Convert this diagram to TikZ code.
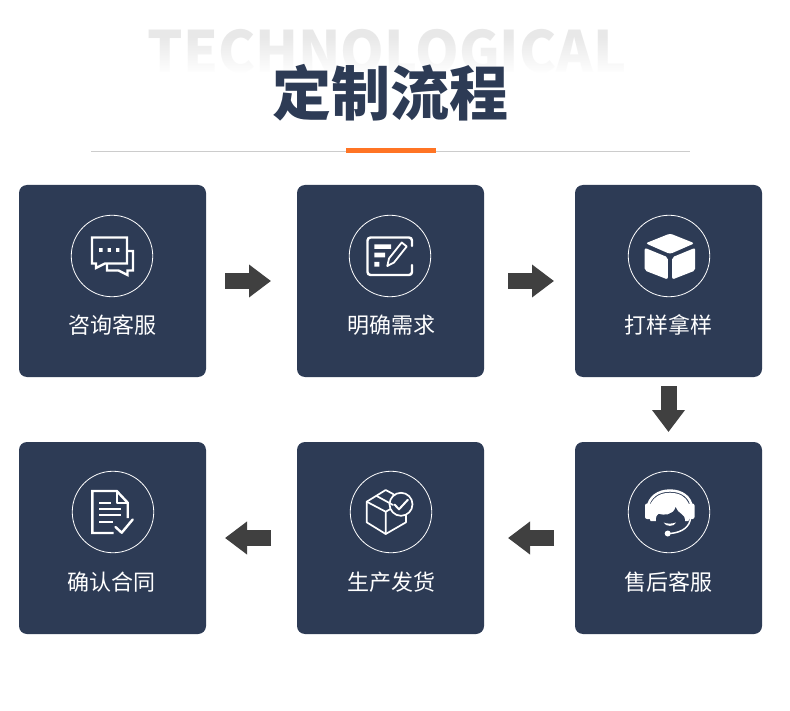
\documentclass[tikz,border=0pt]{standalone}
\usepackage{fontspec}
\setmainfont{Noto Sans CJK SC}
\newfontfamily\titlefont{Noto Sans CJK SC}[BoldFont={Noto Sans CJK SC Black}]
\usetikzlibrary{arrows.meta,fadings}
\definecolor{navy}{HTML}{2D3B55}
\definecolor{flowgray}{HTML}{404040}
\definecolor{accent}{HTML}{FF7424}
\tikzset{
  card/.style={fill=navy,rounded corners=8pt,minimum width=187pt,minimum height=192pt,inner sep=0pt,outer sep=0pt},
  ring/.style={draw=white,line width=0.8pt,circle,minimum size=81.5pt,inner sep=0pt},
  cardlabel/.style={text=white,font=\fontsize{22}{24}\selectfont,inner sep=0pt},
  flow/.style={draw=flowgray,line width=16pt,-{Triangle[length=22pt,width=31.5pt]}},
  ico/.style={draw=white,line width=2.4pt,line join=miter},
  icon/.style={draw=white,line width=2.4pt,line join=round,line cap=round}
}
\begin{document}
\begin{tikzpicture}[x=1pt,y=-1pt]
\useasboundingbox (0,0) rectangle (790,711);
\fill[white] (0,0) rectangle (790,711);
% heading
\node[font=\titlefont\bfseries\fontsize{57}{60}\selectfont,text=black!9,inner sep=0pt,anchor=base,xscale=0.975] (ghost) at (387,73) {TECHNOLOGICAL};
\fill[white,path fading=north] (140,36) rectangle (640,74);
\fill[white] (140,74) rectangle (640,80);
\node[font=\titlefont\bfseries\fontsize{59}{61}\selectfont,text=navy,inner sep=0pt] (title) at (390,93) {定制流程};
\coordinate (ruleL) at (91,151.5);
\coordinate (ruleR) at (690,151.5);
\draw[black!20,line width=1pt] (ruleL) -- (ruleR);
\fill[accent] (346,148) rectangle (436,153);
% cards
\node[card] (c1) at (112.5,281) {};
\node[card] (c2) at (390.5,281) {};
\node[card] (c3) at (668.5,281) {};
\node[card] (c4) at (668.5,538) {};
\node[card] (c5) at (390.5,538) {};
\node[card] (c6) at (112.5,538) {};
% rings
\node[ring] (r1) at (112,256) {};
\node[ring] (r2) at (390,256) {};
\node[ring] (r3) at (669,256) {};
\node[ring] (r4) at (669,512) {};
\node[ring] (r5) at (391,512) {};
\node[ring] (r6) at (113,512) {};
% labels
\node[cardlabel] (l1) at (112,325) {咨询客服};
\node[cardlabel] (l2) at (391,325) {明确需求};
\node[cardlabel] (l3) at (668,325) {打样拿样};
\node[cardlabel] (l4) at (668,582) {售后客服};
\node[cardlabel] (l5) at (391,582) {生产发货};
\node[cardlabel] (l6) at (111,582) {确认合同};
% connectors
\draw[flow,shorten <=19pt,shorten >=26pt] (c1.east) -- (c2.west);
\draw[flow,shorten <=24pt,shorten >=21pt] (c2.east) -- (c3.west);
\draw[flow,shorten <=9pt,shorten >=10pt] (c3.south) -- (c4.north);
\draw[flow,shorten <=21pt,shorten >=24pt] (c4.west) -- (c5.east);
\draw[flow,shorten <=26pt,shorten >=19pt] (c5.west) -- (c6.east);
% icon 1: chat
\draw[ico] (92,237.5) -- (127,237.5) -- (127,263.5) -- (105,263.5) -- (96,268) -- (96,263.5) -- (92,263.5) -- cycle;
\draw[ico] (127,251) -- (133,251) -- (133,270.5) -- (127.5,270.5) -- (127.5,275) -- (118.5,270.5) -- (107,270.5) -- (107,264);
\fill[white] (99.2,248.2) rectangle +(3.4,3.8) (107.5,248.2) rectangle +(3.4,3.8) (116,248.2) rectangle +(3.4,3.8);
% icon 2: form and pencil
\draw[icon,rounded corners=3pt] (412,246) -- (412,237.5) -- (367.5,237.5) -- (367.5,275) -- (412,275) -- (412,265);
\fill[white] (374.3,244.3) rectangle (391,249) (374.3,252.7) rectangle (385,257.3) (374.3,262) rectangle (379.3,266.7);
\draw[white,line width=1.8pt,line join=round] (387.3,266) -- (389,258.5) -- (401.7,242.5) -- (406.7,246.5) -- (394,262.5) -- cycle;
% icon 3: cube
\fill[white,rounded corners=2.5pt] (645.5,243.3) -- (670,233.5) -- (694.5,243.3) -- (670,254) -- cycle;
\fill[white,rounded corners=2pt] (644.7,247.8) -- (667.8,257.3) -- (667.8,279.5) -- (644.7,270.5) -- cycle;
\fill[white,rounded corners=2pt] (672.2,257.3) -- (695.2,247.8) -- (695.2,270.5) -- (672.2,279.5) -- cycle;
% icon 4: headset
\fill[white] (650.5,521) .. controls (646,510) and (650,493) .. (670,492.7) .. controls (690,493) and (693,510) .. (688.5,521) -- cycle;
\draw[white,line width=2.4pt] (647.5,508) .. controls (649,497) and (658,490.5) .. (670,490.5) .. controls (682,490.5) and (691,497) .. (692,508);
\fill[white,rounded corners=2pt] (645,503.5) rectangle (652,519);
\fill[white,rounded corners=2pt] (688,503.5) rectangle (694.5,519);
\fill[navy] (656,521) .. controls (656,517) and (656.5,515) .. (658.5,514) .. controls (664,515) and (673,516) .. (675.7,507) .. controls (677,510.5) and (679,512.5) .. (681,513.7) .. controls (684,515) and (685,518) .. (685,521.5) .. controls (684,527) and (678,530) .. (670,530) .. controls (662,530) and (657,527) .. (656,521) -- cycle;
\fill[white] (663.5,522.5) .. controls (667,524) and (672,524) .. (676,522.5) .. controls (674,527) and (666,527) .. (663.5,522.5) -- cycle;
\draw[white,line width=1.5pt] (690.5,518) .. controls (690,526) and (683,532.5) .. (670,533.5);
\fill[white] (667.7,533.5) circle (3pt);
% icon 5: box with check
\draw[icon,line width=1.7pt] (394,494.5) -- (385.7,490) -- (366.7,501.7) -- (366.7,522.3) -- (385.7,534) -- (406,522.3) -- (406,515.5);
\draw[icon,line width=1.7pt] (366.7,501.7) -- (385.7,511.7) -- (385.7,534) (385.7,511.7) -- (390.5,509);
\draw[icon,line width=1.7pt] (376.7,496) -- (393,505);
\draw[icon,line width=1.7pt] (401,504.3) circle (11.5pt);
\draw[icon,line width=2pt] (394.5,504.5) -- (399,509.3) -- (407.8,499.8);
% icon 6: document
\draw[icon,line join=miter,line cap=butt] (113.5,533) -- (92.3,533) -- (92.3,491) -- (116.7,491) -- (127.7,502.7) -- (127.7,518);
\draw[icon,line width=1.7pt] (116.7,491) -- (116.7,502.7) -- (127.7,502.7);
\draw[icon,line cap=butt] (99,502.7) -- (111,502.7) (99,509) -- (121,509) (99,515) -- (121,515) (99,521.7) -- (112.5,521.7);
\draw[icon] (115.5,527) -- (121.7,532.7) -- (132.7,519.5);
\end{tikzpicture}
\end{document}
